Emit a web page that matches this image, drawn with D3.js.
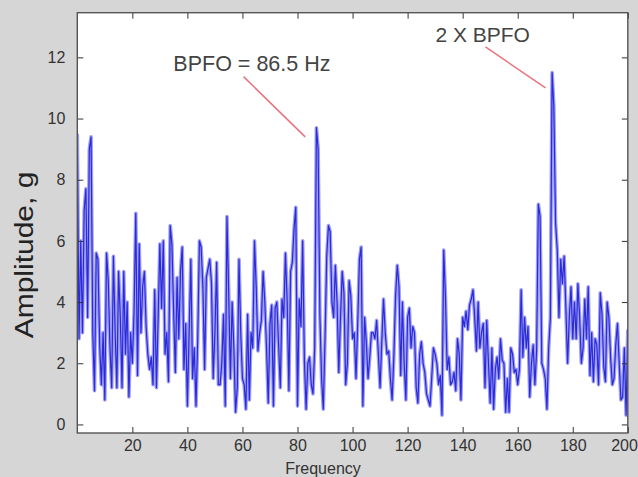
<!DOCTYPE html>
<html><head><meta charset="utf-8">
<script src="https://cdn.jsdelivr.net/npm/d3@7"></script>
<style>html,body{margin:0;padding:0;background:#d6d6d6;} svg{display:block;}</style>
</head><body><svg id="c" width="638" height="477"></svg>
<script>
// Amplitude spectrum (g), uniformly spaced bins from 0 to 200 Hz
const amp = [
9.5, 2.8, 6.0, 3.0, 7.0, 7.7, 3.5, 9.0, 9.4, 3.0,
1.1, 5.6, 5.4, 2.6, 1.3, 3.0, 0.8, 5.6, 4.7, 2.5,
1.2, 5.5, 3.0, 1.2, 5.0, 3.5, 1.2, 5.0, 2.3, 4.0,
0.9, 3.0, 2.0, 3.7, 6.9, 1.6, 5.9, 3.0, 4.5, 5.0,
3.2, 2.3, 1.8, 2.2, 1.3, 4.4, 1.2, 3.5, 5.9, 3.8,
6.0, 2.3, 3.0, 1.4, 6.5, 5.9, 3.7, 1.7, 4.8, 2.8,
5.0, 5.8, 1.8, 3.3, 0.6, 3.0, 5.4, 1.5, 2.5, 0.6,
2.8, 6.0, 5.8, 4.5, 1.8, 4.8, 5.1, 5.4, 4.6, 1.5,
3.0, 5.3, 1.3, 1.3, 2.0, 3.6, 0.6, 6.8, 4.3, 1.5,
4.0, 2.5, 0.4, 1.2, 5.4, 3.0, 1.5, 1.3, 0.5, 3.6,
0.8, 3.0,
2.5, 6.0, 4.5, 2.4, 3.0, 3.4, 5.0, 4.0, 2.5, 0.7,
3.3, 3.9, 0.6, 3.8, 4.0, 2.6, 1.2, 4.1, 3.5, 5.6,
4.0, 1.1, 5.0, 5.3, 6.4, 7.1, 0.6, 4.1, 3.2, 6.0,
2.1, 0.5, 2.0, 2.2, 1.3, 1.0, 2.5, 9.7, 9.0, 3.6,
1.5, 0.5, 2.8, 5.5, 6.5, 6.3, 4.0, 3.5, 5.2, 4.0,
1.7, 3.5, 5.0, 4.3, 1.3, 2.0, 4.7, 4.2, 2.8, 3.0,
1.5, 3.3, 5.4, 5.8, 0.6, 3.5, 2.7, 1.5, 2.2, 3.0,
3.0, 2.8, 3.4, 2.3, 1.2, 2.7, 4.1, 3.0, 2.3, 2.4,
1.5, 0.8, 2.2, 4.2, 5.2, 4.5, 1.6, 4.0, 2.0, 0.8,
3.5, 3.8, 2.5, 3.2, 3.0, 1.2, 0.7, 2.3, 2.7, 2.0,
1.7, 1.0, 0.8, 0.6, 1.5, 2.5, 2.3, 2.0, 1.3, 1.6,
0.3, 5.7, 4.2, 1.8, 2.2, 1.3, 1.4, 1.7, 1.1, 2.8,
2.3, 0.8, 3.5, 3.2, 3.7, 3.1, 3.9, 4.1, 4.4, 3.5,
2.4, 4.0, 2.5, 3.0, 3.3, 1.2, 3.4, 2.0, 0.7, 2.5,
0.5, 1.8, 2.2, 1.5, 2.8, 2.1, 2.0, 0.4, 1.5, 0.4,
2.5, 2.3, 1.7, 1.8, 1.3, 1.8, 4.4, 2.2, 3.5, 2.5,
3.2, 0.9, 2.0, 2.6, 1.3, 2.4, 7.2, 6.8, 2.0, 1.8,
1.5, 0.5, 2.5, 3.5, 11.5, 10.4, 6.6, 5.7, 3.5, 5.4,
4.6, 5.5, 3.8, 2.0, 3.5, 4.5, 2.8, 4.0, 2.8, 4.6,
3.5, 2.0, 2.5, 4.1, 2.8, 4.5, 1.6, 3.0, 1.4, 2.8,
2.6, 1.3, 4.3, 3.6, 1.9, 1.4, 4.0, 3.5, 2.2, 1.3,
1.5, 2.6, 3.3, 2.0, 0.8, 0.9, 2.5, 0.3, 3.1
];
const freqMax = 200;
const xTicks = [20, 40, 60, 80, 100, 120, 140, 160, 180, 200];
const yTicks = [0, 2, 4, 6, 8, 10, 12];
const xLabel = "Frequency";
const yLabel = "Amplitude, g";
const annLabels = ["BPFO = 86.5 Hz", "2 X BPFO"];

const svg = d3.select("#c");
const L = 77.3, R = 627.8, T = 12.7, B = 433;
const x = d3.scaleLinear().domain([0, freqMax]).range([L, R]);
const y = d3.scaleLinear().domain([-0.28, 13.46]).range([B, T]);
const df = freqMax / (amp.length - 1);
const pts = amp.map((v, i) => [i * df, v]);
const font = "'Liberation Sans', Arial, Helvetica, sans-serif";

svg.append("rect").attr("width", 638).attr("height", 477).attr("fill", "#d6d6d6");
svg.append("rect").attr("x", L).attr("y", T).attr("width", R - L).attr("height", B - T).attr("fill", "#fff");

svg.append("clipPath").attr("id", "pc").append("rect")
  .attr("x", L).attr("y", T).attr("width", R - L).attr("height", B - T);

const line = d3.line().x(d => x(d[0])).y(d => y(d[1]));
const g = svg.append("g").attr("clip-path", "url(#pc)");
g.append("path").datum(pts).attr("d", line).attr("fill", "none")
  .attr("stroke", "#9494f6").attr("stroke-width", 3.6).attr("stroke-opacity", 0.9).attr("stroke-linejoin", "round");
g.append("path").datum(pts).attr("d", line).attr("fill", "none")
  .attr("stroke", "#2a2ad8").attr("stroke-width", 1.2).attr("stroke-linejoin", "round");

// axes
function styleAxis(sel, labels) {
  sel.select(".domain").remove();
  sel.selectAll(".tick line").attr("stroke", "#333").attr("stroke-width", 1);
  sel.selectAll(".tick text").attr("fill", "#333").style("font-family", font).style("font-size", "16px");
  if (!labels) sel.selectAll(".tick text").remove();
}
svg.append("g").attr("transform", `translate(0,${B})`)
  .call(d3.axisBottom(x).tickValues(xTicks).tickSizeInner(-6).tickSizeOuter(0).tickPadding(7))
  .call(s => styleAxis(s, true))
  .call(s => s.selectAll(".tick text").filter(d => d === freqMax).attr("text-anchor", "end").attr("dx", "0.6em"));
svg.append("g").attr("transform", `translate(0,${T})`)
  .call(d3.axisTop(x).tickValues(xTicks).tickSizeInner(-6).tickSizeOuter(0))
  .call(s => styleAxis(s, false));
svg.append("g").attr("transform", `translate(${L},0)`)
  .call(d3.axisLeft(y).tickValues(yTicks).tickSizeInner(-6).tickSizeOuter(0).tickPadding(12))
  .call(s => styleAxis(s, true));
svg.append("g").attr("transform", `translate(${R},0)`)
  .call(d3.axisRight(y).tickValues(yTicks).tickSizeInner(-6).tickSizeOuter(0))
  .call(s => styleAxis(s, false));

svg.append("rect").attr("x", L).attr("y", T).attr("width", R - L).attr("height", B - T)
  .attr("fill", "none").attr("stroke", "#555").attr("stroke-width", 1.4);

// labels
svg.append("text").attr("x", 323).attr("y", 474).attr("text-anchor", "middle")
  .attr("fill", "#333").style("font-family", font).style("font-size", "16px").text(xLabel);
svg.append("text").attr("transform", "translate(33,255) rotate(-90) scale(1.2,1)")
  .attr("text-anchor", "middle").attr("fill", "#222")
  .style("font-family", font).style("font-size", "25px").text(yLabel);

// annotations
const red = "#e8737c";
svg.append("line").attr("x1", x(60.4)).attr("y1", y(11.37)).attr("x2", x(82.8)).attr("y2", y(9.4))
  .attr("stroke", red).attr("stroke-width", 1.5);
svg.append("line").attr("x1", x(148.3)).attr("y1", y(12.34)).attr("x2", x(170.1)).attr("y2", y(11.0))
  .attr("stroke", red).attr("stroke-width", 1.5);
svg.append("text").attr("x", x(34.9)).attr("y", y(11.56)).attr("fill", "#444")
  .style("font-family", font).style("font-size", "21.5px").text(annLabels[0]);
svg.append("text").attr("x", x(130.1)).attr("y", y(12.5)).attr("fill", "#444")
  .style("font-family", font).style("font-size", "21px").text(annLabels[1]);
</script></body></html>
